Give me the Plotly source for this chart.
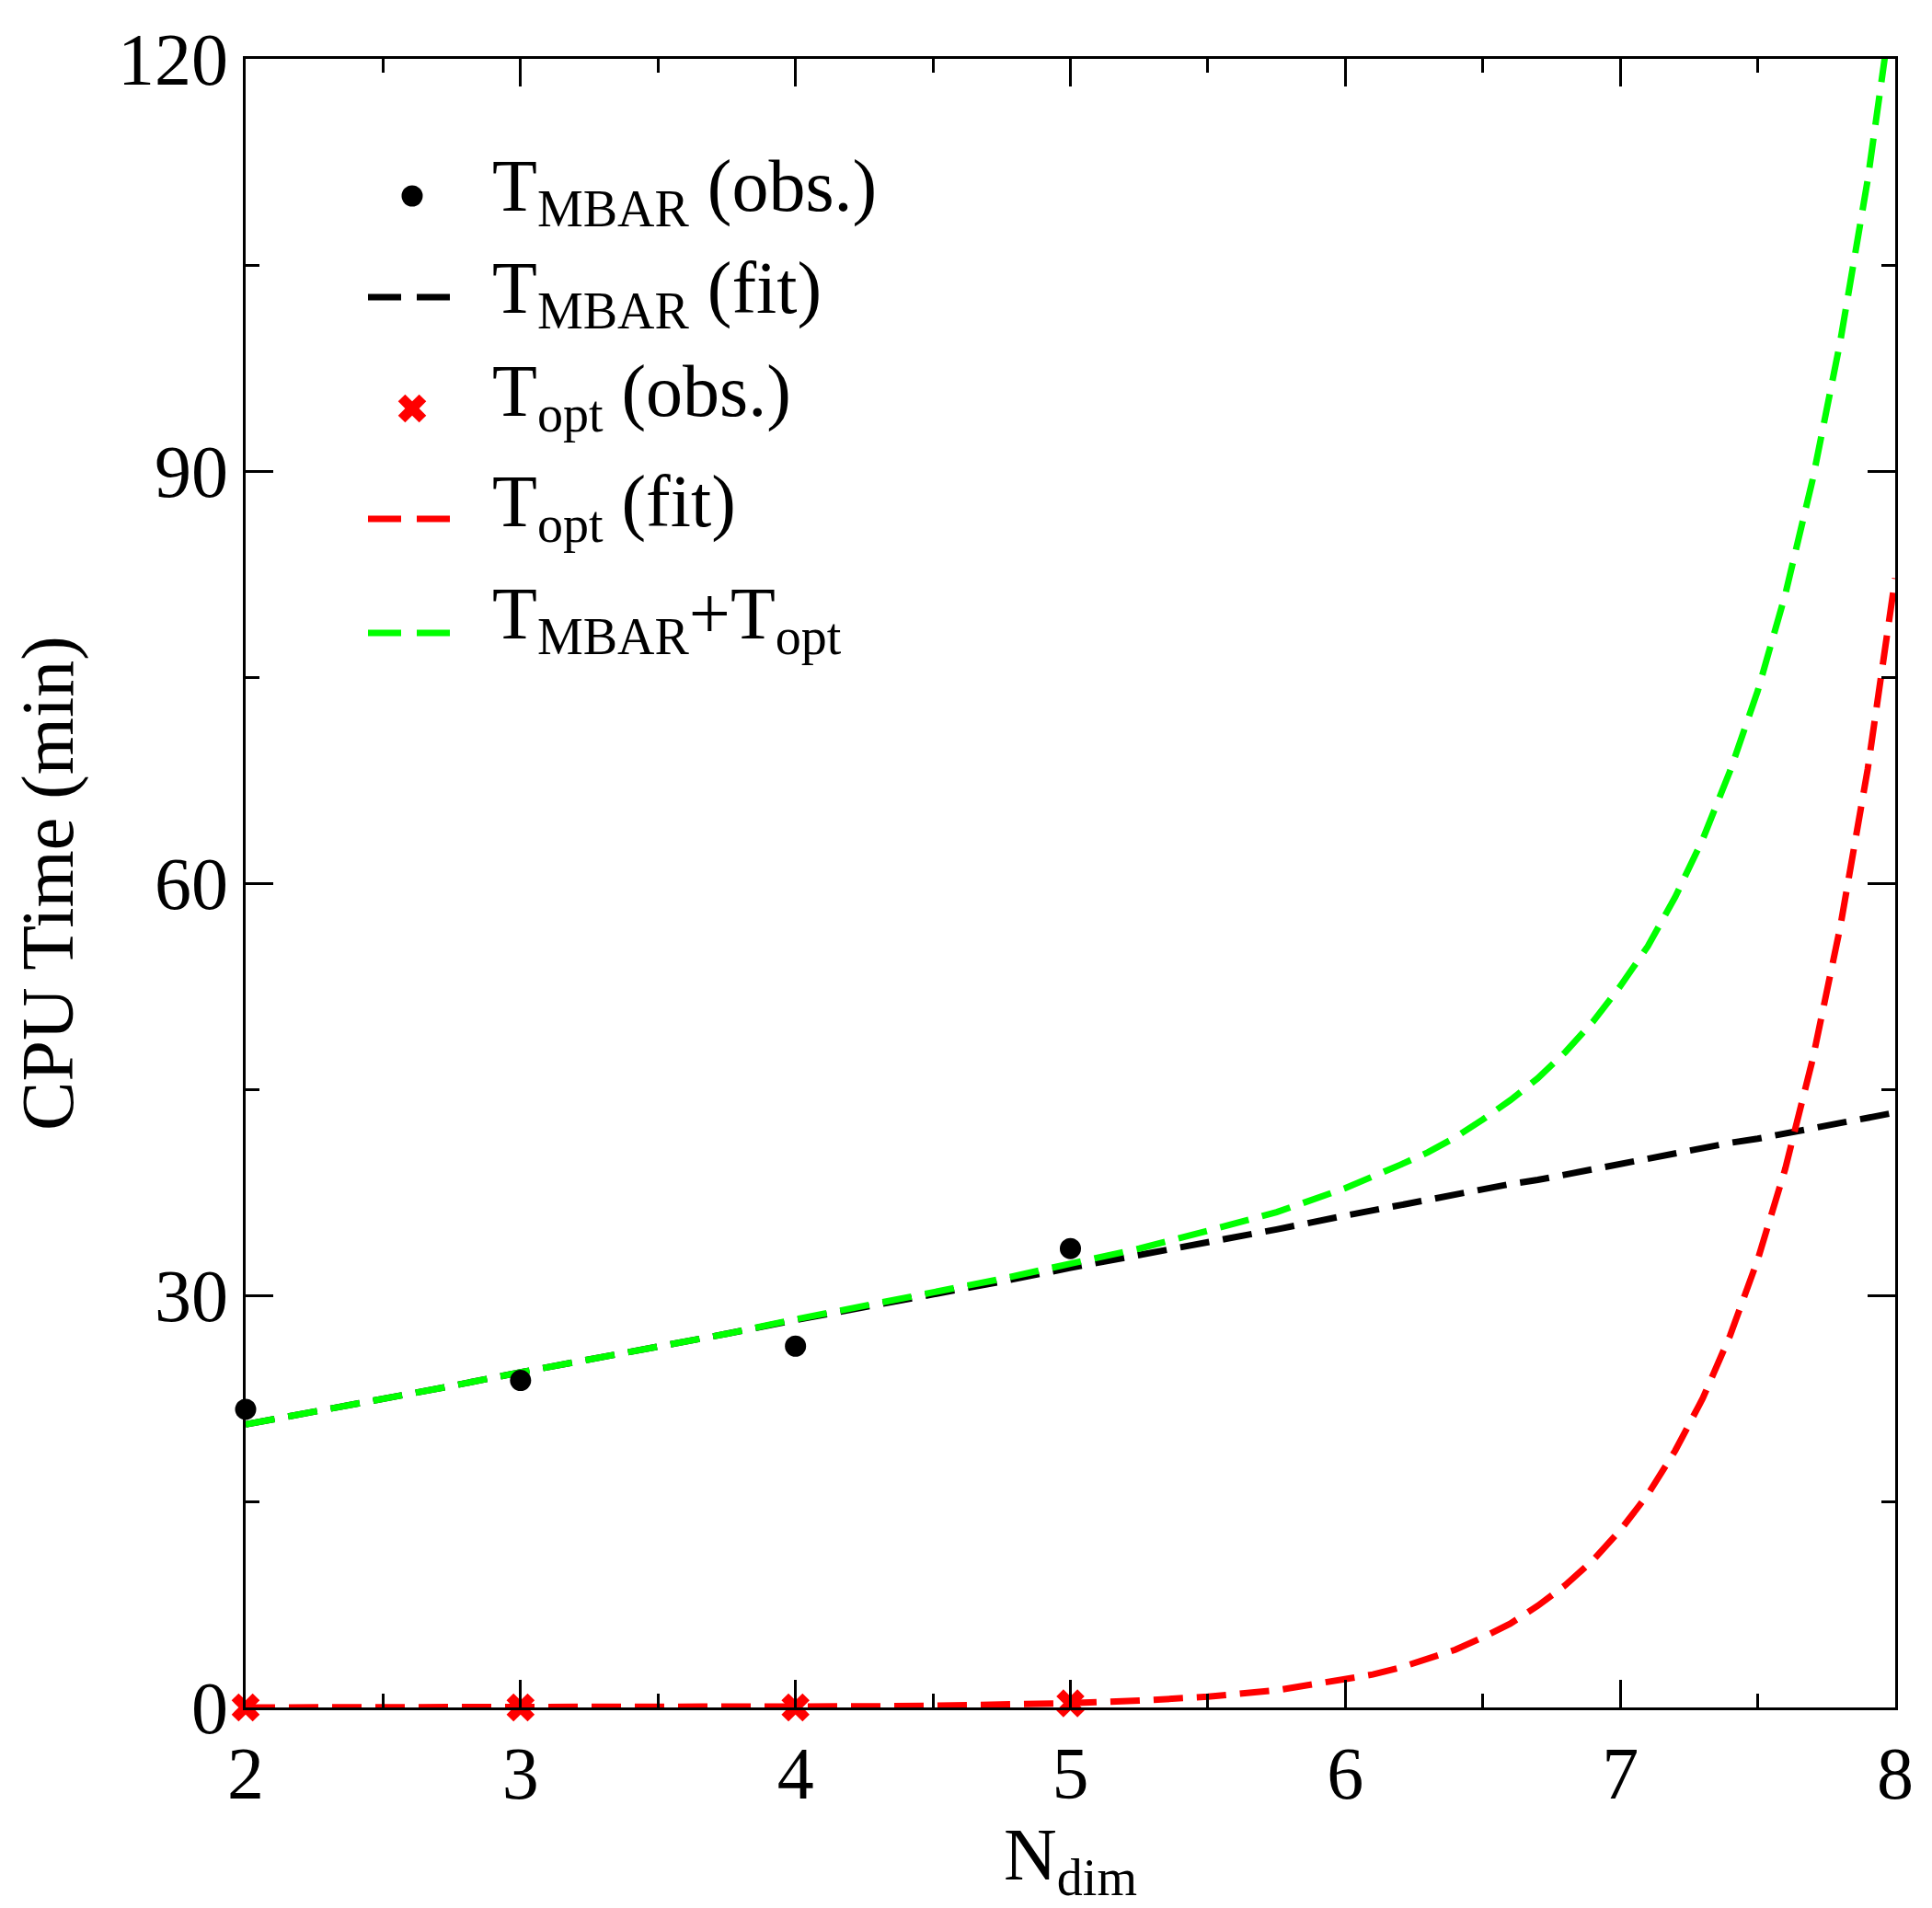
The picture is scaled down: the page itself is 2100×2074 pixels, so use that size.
import plotly.graph_objects as go

# ---- data ----
n_obs = [2, 3, 4, 5]
t_mbar_obs = [21.7, 23.8, 26.3, 33.4]
t_opt_obs = [0.0, 0.0, 0.0, 0.3]

n_fit = [2.0, 2.25, 2.5, 2.75, 3.0, 3.25, 3.5, 3.75, 4.0, 4.25, 4.5, 4.75,
         5.0, 5.25, 5.5, 5.75,
         6.0, 6.1, 6.2, 6.3, 6.4, 6.5, 6.6, 6.7, 6.8, 6.9,
         7.0, 7.1, 7.2, 7.3, 7.4, 7.5, 7.6, 7.7, 7.8, 7.9, 8.0]
t_mbar_fit = [20.6, 21.5, 22.5, 23.4, 24.4, 25.3, 26.3, 27.2, 28.2, 29.1, 30.1, 31.0,
              32.0, 32.9, 33.9, 34.8,
              35.8, 36.2, 36.6, 36.9, 37.3, 37.7, 38.1, 38.4, 38.8, 39.2,
              39.6, 39.9, 40.3, 40.7, 41.1, 41.4, 41.8, 42.2, 42.6, 42.9, 43.3]
t_opt_fit = [0.0, 0.0, 0.0, 0.0, 0.0, 0.01, 0.02, 0.03, 0.05, 0.08, 0.12, 0.2,
             0.31, 0.5, 0.78, 1.25,
             2.0, 2.4, 2.9, 3.5, 4.2, 5.1, 6.1, 7.4, 8.9, 10.7,
             12.9, 15.5, 18.7, 22.5, 27.1, 32.6, 39.2, 47.2, 56.8, 68.3, 82.2]
t_total_fit = [20.6, 21.5, 22.5, 23.4, 24.4, 25.3, 26.3, 27.2, 28.25, 29.2, 30.2, 31.2,
               32.3, 33.4, 34.7, 36.05,
               37.8, 38.6, 39.5, 40.4, 41.5, 42.8, 44.2, 45.8, 47.7, 49.9,
               52.5, 55.4, 59.0, 63.2, 68.2, 74.0, 81.0, 89.4, 99.4, 111.2, 125.5]

x_ticks = [2, 3, 4, 5, 6, 7, 8]
y_ticks = [0, 30, 60, 90, 120]

legend_labels = ["T<sub>MBAR</sub> (obs.)", "T<sub>MBAR</sub> (fit)",
                 "T<sub>opt</sub> (obs.)", "T<sub>opt</sub> (fit)",
                 "T<sub>MBAR</sub>+T<sub>opt</sub>"]

FONT = "Liberation Serif"
DASH = "32px,15px"
LW = 7
BLACK, RED, GREEN = "black", "#ff0000", "#00ff00"

# plot area in pixels
W, H = 2100, 2074
L, R, T, B = 259, 48, 56, 226
PW, PH = W - L - R, H - T - B


def px_x(px):
    return (px - L) / PW


def px_y(py):
    return (H - B - py) / PH


fig = go.Figure()
fig.add_trace(go.Scatter(x=n_fit, y=t_mbar_fit, mode="lines", name=legend_labels[1],
                         line=dict(color=BLACK, width=LW, dash=DASH)))
fig.add_trace(go.Scatter(x=n_fit, y=t_opt_fit, mode="lines", name=legend_labels[3],
                         line=dict(color=RED, width=LW, dash=DASH)))
fig.add_trace(go.Scatter(x=n_fit, y=t_total_fit, mode="lines", name=legend_labels[4],
                         line=dict(color=GREEN, width=LW, dash=DASH)))
fig.add_trace(go.Scatter(x=n_obs, y=t_mbar_obs, mode="markers", name=legend_labels[0],
                         marker=dict(symbol="circle", size=23, color=BLACK),
                         cliponaxis=False))
fig.add_trace(go.Scatter(x=n_obs, y=t_opt_obs, mode="markers", name=legend_labels[2],
                         marker=dict(symbol="x", size=27, color=RED, line=dict(width=0)),
                         cliponaxis=False))

# ---- hand-made legend (overlay axes in 0..1 plot-area units) ----
sym_x = px_x(440)
line_x0, line_x1 = px_x(392), px_x(481)
text_x = px_x(525)
row_sym_y = [205, 315, 436, 556, 680]
row_txt_y = [200, 311, 423, 543, 665]

fig.add_trace(go.Scatter(x=[sym_x], y=[px_y(row_sym_y[0])], mode="markers",
                         xaxis="x2", yaxis="y2", showlegend=False, hoverinfo="skip",
                         marker=dict(symbol="circle", size=23, color=BLACK)))
fig.add_trace(go.Scatter(x=[sym_x], y=[px_y(row_sym_y[2])], mode="markers",
                         xaxis="x2", yaxis="y2", showlegend=False, hoverinfo="skip",
                         marker=dict(symbol="x", size=27, color=RED, line=dict(width=0))))
for idx, col in [(1, BLACK), (3, RED), (4, GREEN)]:
    yy = px_y(row_sym_y[idx])
    fig.add_trace(go.Scatter(x=[line_x0, line_x1], y=[yy, yy], mode="lines",
                             xaxis="x2", yaxis="y2", showlegend=False, hoverinfo="skip",
                             line=dict(color=col, width=LW, dash="36px,17px")))

annotations = []
for lab, ty in zip(legend_labels, row_txt_y):
    annotations.append(dict(x=text_x, y=px_y(ty), xref="paper", yref="paper",
                            xanchor="left", yanchor="middle", text=lab, showarrow=False,
                            font=dict(family=FONT, size=80, color="black")))

axis_common = dict(
    showline=True, linecolor="black", linewidth=3, mirror="allticks",
    ticks="inside", ticklen=30, tickwidth=3, tickcolor="black",
    showgrid=False, zeroline=False,
    tickfont=dict(family=FONT, size=80, color="black"),
)

fig.update_layout(
    xaxis=dict(range=[2, 8], tickvals=x_ticks, ticktext=[str(v) for v in x_ticks],
               minor=dict(dtick=0.5, tick0=2, ticks="inside", ticklen=15,
                          tickwidth=3, tickcolor="black", showgrid=False),
               title=dict(text="N<sub>dim</sub>",
                          font=dict(family=FONT, size=80, color="black"), standoff=10),
               **axis_common),
    yaxis=dict(range=[0, 120], tickvals=y_ticks, ticktext=[str(v) for v in y_ticks],
               minor=dict(dtick=15, tick0=0, ticks="inside", ticklen=15,
                          tickwidth=3, tickcolor="black", showgrid=False),
               title=dict(text="CPU Time (min)",
                          font=dict(family=FONT, size=80, color="black"), standoff=25),
               **axis_common),
    xaxis2=dict(overlaying="x", range=[0, 1], visible=False, fixedrange=True),
    yaxis2=dict(overlaying="y", range=[0, 1], visible=False, fixedrange=True),
    width=W, height=H,
    margin=dict(l=L, r=R, t=T, b=B),
    paper_bgcolor="white", plot_bgcolor="white",
    font=dict(family=FONT, size=80, color="black"),
    showlegend=False,
    annotations=annotations,
)

fig.write_html("out.html")
